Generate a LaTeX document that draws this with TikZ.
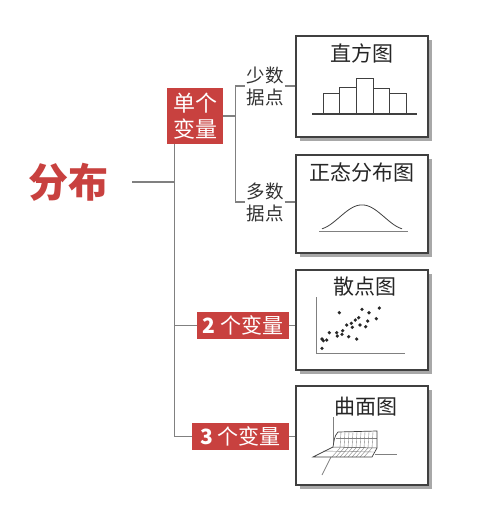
\documentclass[tikz,border=0pt]{standalone}
\usepackage{fontspec}
\usetikzlibrary{shadows}
\newfontfamily\cjk{Noto Sans CJK SC}
\definecolor{redc}{HTML}{C8413F}
\definecolor{linegray}{HTML}{808080}
\definecolor{boxborder}{HTML}{404040}
\definecolor{shadowc}{HTML}{A8A8A8}
\definecolor{darktext}{HTML}{333333}
\begin{document}
\begin{tikzpicture}[x=1pt,y=-1pt,
  conn/.style={draw=linegray,line width=1.3pt},
  redbox/.style={fill=redc,text=white,inner sep=0pt,align=center},
  chartbox/.style={draw=boxborder,line width=1.2pt,fill=white,minimum width=132pt,inner sep=0pt,
    drop shadow={shadow xshift=4pt,shadow yshift=-4pt,fill=shadowc,opacity=1}},
  charttitle/.style={font=\cjk\fontsize{21}{24}\selectfont,inner sep=0pt,text=black!85},
  lbl/.style={font=\cjk\fontsize{18.5}{22}\selectfont,text=darktext,align=center,inner sep=1pt},
  chartline/.style={draw=boxborder,line width=0.8pt},
  axis/.style={draw=gray,line width=1pt},
  dot/.style={fill=black!85}]
\useasboundingbox (0,0) rectangle (480,507);

% main label
\node[font=\cjk\bfseries\fontsize{40}{44}\selectfont,text=redc,inner sep=0pt] (fenbu) at (68,182) {分布};

% red boxes
\node[redbox,font=\cjk\fontsize{22}{26}\selectfont,minimum width=56pt,minimum height=56pt] (single) at (195,116) {单个\\变量};
\node[redbox,font=\cjk\fontsize{21}{24}\selectfont,minimum width=92pt,minimum height=27pt] (v2) at (243,325.5) {\textbf{2} 个变量};
\node[redbox,font=\cjk\fontsize{21}{24}\selectfont,minimum width=97pt,minimum height=27pt] (v3) at (240.5,436.5) {\textbf{3} 个变量};

% small labels
\node[lbl] (few) at (265,86) {少数\\据点};
\node[lbl] (many) at (265,202) {多数\\据点};

% chart boxes
\node[chartbox,minimum height=101pt] (h1) at (362,86.5) {};
\node[chartbox,minimum height=98pt] (h2) at (362,204) {};
\node[chartbox,minimum height=100pt] (h3) at (362,320) {};
\node[chartbox,minimum height=99pt] (h4) at (362,435.5) {};

\node[charttitle] (t1) at (362,53) {直方图};
\node[charttitle] (t2) at (362,173) {正态分布图};
\node[charttitle] (t3) at (365,287) {散点图};
\node[charttitle] (t4) at (366,407) {曲面图};

% connectors
\coordinate (tt) at ([xshift=8pt]single.south west);
\coordinate (fe) at ([xshift=24pt]fenbu.east);
\coordinate (br) at ([xshift=12pt]single.east);
\draw[conn] (tt) -- (tt |- v3.west) -- (v3.west);
\draw[conn] (fe) -- (fe -| tt);
\draw[conn] (tt |- v2.west) -- (v2.west);
\draw[conn] (single.east) -- (br);
\draw[conn] (br |- few.west) -- (br |- many.west);
\draw[conn] (br |- few.west) -- (few.west);
\draw[conn] (br |- many.west) -- (many.west);
\draw[conn] (few.east) -- (few.east -| h1.west);
\draw[conn] (many.east) -- (many.east -| h2.west);
\draw[conn] (v2.east) -- (v2.east -| h3.west);
\draw[conn] (v3.east) -- (v3.east -| h4.west);

% histogram
\draw[chartline] (323,114) rectangle (339,93);
\draw[chartline] (339,114) rectangle (356,87);
\draw[chartline] (356,114) rectangle (373,78);
\draw[chartline] (373,114) rectangle (389,88);
\draw[chartline] (389,114) rectangle (406,93);
\draw[draw=boxborder,line width=1.2pt] (312,114) -- (417,114);

% normal curve
\draw[axis,line width=0.9pt] (319,231) -- (408,231);
\draw[chartline] plot[domain=322:402,samples=70,smooth] (\x,{229.5-12.3*(1+cos(4*(\x-362)))});

% scatter
\draw[axis] (316,297) -- (316,353) -- (405,353);
\foreach \p in {(339.3,312.7),(362,309.3),(369,312.7),(379.3,308),(358.7,317.7),(367.7,321),
  (376.3,318.7),(355.3,320),(351.3,323.3),(346.7,325),(352.3,327.3),(360,325),(365.7,326.7),
  (342.7,330.7),(336.7,332.7),(329.3,332.7),(337.3,336),(342,334.3),(348.7,336.7),(356.7,339),
  (322,339),(326.7,340),(323.3,340.7),(322,348.3)}
  \fill[dot] \p circle (1.8);

% surface
\draw[axis,line width=0.8pt] (333,417) -- (333,447);
\draw[axis,line width=0.8pt] (331,457) -- (322,475);
\draw[axis,line width=0.8pt] (375,454) -- (397,454);
\fill[white] (313,457) -- (372,457) -- (377,448) -- (377,431) -- (338,432)
  .. controls (334,436) and (334,442) .. (333,447) -- cycle;
\foreach \x in {341,345,...,373}
  \draw[gray,line width=0.4pt] (\x,432) .. controls (\x-1,440) .. (\x-1,448) -- (\x-9,457);
\draw[gray,line width=0.4pt] (323,451) -- (374,452);
\draw[gray,line width=0.4pt] (336,438) -- (377,438);
\draw[boxborder,line width=0.7pt] (313,457) -- (372,457) -- (377,448) -- (377,431) -- (338,432)
  .. controls (334,436) and (334,442) .. (333,447) -- cycle;
\draw[boxborder,line width=0.5pt] (333,447) -- (377,448);
\end{tikzpicture}
\end{document}
